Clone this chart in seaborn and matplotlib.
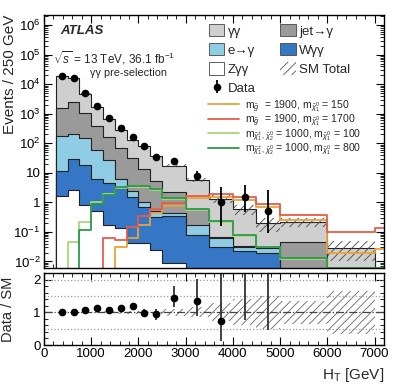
import numpy as np
import matplotlib
matplotlib.use("Agg")
import matplotlib.pyplot as plt
import seaborn as sns
from matplotlib.patches import Patch
from matplotlib.lines import Line2D
from matplotlib.ticker import MultipleLocator, LogLocator, FuncFormatter, NullFormatter

# bin edges in GeV
edges = [250, 500, 750, 1000, 1250, 1500, 1750, 2000, 2250, 2500,
         3000, 3500, 4000, 4500, 5000, 6000, 7000]
sig_edges = edges + [8000]

# backgrounds, events / 250 GeV (stack order bottom -> top)
z_gg = [1.65, 2.7, 0.83, 0.52, 0.17, 0.14, 0.043, 0.043, 0.025, 0.009,
        0.003, 0.002, 0.001, 0.001, 0.0005, 0.0003]
w_gg = [10.3, 26.3, 18.2, 5.5, 4.4, 2.9, 1.46, 0.66, 0.3, 0.33,
        0.077, 0.03, 0.021, 0.019, 0.0035, 0.0017]
e_gam = [168, 181, 131, 54, 23.4, 3.0, 1.0, 0.3, 0.17, 0.11,
         0.09, 0.031, 0.01, 0.008, 0.001, 0.001]
jet_gam = [1400, 2290, 920, 330, 138, 64, 29.5, 12, 4.6, 1.85,
           0.43, 0.003, 0.002, 0.002, 0.042, 0.0005]
gam_gam = [17520, 14100, 3730, 1260, 494, 220, 102, 66, 30.9, 15.3,
           5.3, 1.28, 0.57, 0.17, 0.17, 0.026]
sm_rel_unc = [0.02, 0.02, 0.02, 0.03, 0.03, 0.04, 0.04, 0.05, 0.06, 0.1,
              0.15, 0.27, 0.4, 0.5, 0.35, 0.65]

# data, events / 250 GeV
data = [19000, 16600, 5150, 1870, 705, 325, 161, 78, 34, 25.5,
        7.9, 1.0, 1.5, 0.5, np.nan, np.nan]
data_lo = [140, 130, 75, 45, 27, 19, 12, 8.5, 6, 4.9,
           2.7, 0.84, 1.04, 0.41, np.nan, np.nan]
data_hi = [140, 130, 75, 45, 27, 19, 12, 8.5, 6, 6.3,
           4.0, 2.4, 2.4, 2.15, np.nan, np.nan]

# signals
z0 = 1e-5
sig_gl_150 = [z0, z0, z0, z0, z0, 0.03, 0.06, 0.17, 0.45, 0.75,
              1.4, 1.5, 1.2, 0.7, 0.25, 0.019, 0.027]
sig_gl_1700 = [z0, z0, z0, z0, 0.06, 0.055, 0.15, 0.35, 0.6, 0.95,
               1.6, 1.9, 1.5, 0.9, 0.37, 0.1, 0.14]
sig_ew_100 = [z0, 0.045, 0.21, 1.0, 1.9, 3.0, 3.2, 3.2, 2.6, 1.3,
              0.55, 0.22, 0.075, 0.03, 0.012, 0.005, 0.005]
sig_ew_800 = [z0, z0, 0.12, 0.85, 1.8, 3.3, 3.5, 3.5, 2.8, 1.4,
              0.58, 0.24, 0.08, 0.032, 0.013, 0.006, 0.006]

sns.set_style("ticks")
plt.rcParams["font.family"] = ["Liberation Sans", "DejaVu Sans"]
plt.rcParams["mathtext.fontset"] = "custom"
plt.rcParams["mathtext.rm"] = "Liberation Sans"
plt.rcParams["mathtext.it"] = "Liberation Sans:italic"
plt.rcParams["mathtext.bf"] = "Liberation Sans:bold"
plt.rcParams["hatch.color"] = "#444444"
plt.rcParams["hatch.linewidth"] = 0.6
for a in ("xtick", "ytick"):
    plt.rcParams[a + ".direction"] = "in"
    plt.rcParams[a + ".labelsize"] = 9.5
    plt.rcParams[a + ".color"] = "black"
    plt.rcParams[a + ".major.pad"] = 2.5
plt.rcParams["xtick.top"] = True
plt.rcParams["ytick.right"] = True

edges_a = np.array(edges, dtype=float)
centers = 0.5 * (edges_a[:-1] + edges_a[1:])
sig_edges_a = np.array(sig_edges, dtype=float)
sig_centers = 0.5 * (sig_edges_a[:-1] + sig_edges_a[1:])

fig = plt.figure(figsize=(3.99, 3.87), dpi=100)
ax = fig.add_axes([0.1103, 0.3075, 0.852, 0.6537])
rax = fig.add_axes([0.1103, 0.1085, 0.852, 0.186])

comps = [z_gg, w_gg, e_gam, jet_gam, gam_gam]
colors = ["white", "#3577c4", "#8fcde4", "#9a9a9a", "#cfcfcf"]
cum = np.cumsum(np.array(comps, dtype=float), axis=0)
total = cum[-1]

# draw stack from top layer down
for i in range(len(comps) - 1, -1, -1):
    sns.histplot(x=centers, weights=cum[i], bins=edges, element="step",
                 fill=True, color=colors[i], alpha=1, edgecolor="#222222",
                 linewidth=0.8, ax=ax)

unc = np.array(sm_rel_unc)
lo = np.r_[total * (1 - unc), total[-1] * (1 - unc[-1])]
hi = np.r_[total * (1 + unc), total[-1] * (1 + unc[-1])]
ax.fill_between(edges_a, lo, hi, step="post", facecolor="none",
                edgecolor="#444444", hatch="////", linewidth=0)

sig_list = [sig_gl_150, sig_gl_1700, sig_ew_100, sig_ew_800]
sig_colors = ["#e8a33a", "#e85a4a", "#a8d878", "#2e9a4a"]
for vals, c in zip(sig_list, sig_colors):
    sns.histplot(x=sig_centers, weights=vals, bins=sig_edges, element="step",
                 fill=False, color=c, linewidth=1.3, ax=ax)

eb = ax.errorbar(centers, data, yerr=[data_lo, data_hi], fmt="o", color="black",
                 ms=4.5, elinewidth=1.3, capsize=0)

ax.set_yscale("log")
ax.set_ylim(6e-3, 2.2e6)
ax.set_xlim(0, 7200)
ax.set_xlabel("")
ax.set_ylabel("Events / 250 GeV", fontsize=11, loc="top")
ax.yaxis.set_label_coords(-0.08, 1.0)
ax.tick_params(labelbottom=False)
ax.xaxis.set_major_locator(MultipleLocator(1000))
ax.xaxis.set_minor_locator(MultipleLocator(200))
ax.yaxis.set_major_locator(LogLocator(base=10, numticks=20))
ax.yaxis.set_minor_locator(LogLocator(base=10, subs=np.arange(2, 10), numticks=20))
ax.yaxis.set_minor_formatter(NullFormatter())


def logfmt(v, pos):
    e = int(round(np.log10(v)))
    if e == 0:
        return "1"
    if e == 1:
        return "10"
    return r"$10^{%d}$" % e


ax.yaxis.set_major_formatter(FuncFormatter(logfmt))
ax.tick_params(which="major", length=6)
ax.tick_params(which="minor", length=3)

ax.text(0.047, 0.937, "ATLAS", transform=ax.transAxes, fontsize=9.5,
        fontweight="bold", fontstyle="italic", va="center")
ax.text(0.027, 0.83, r"$\sqrt{s}$ = 13 TeV, 36.1 fb$^{-1}$",
        transform=ax.transAxes, fontsize=8.5, va="center")
ax.text(0.135, 0.772, "γγ pre-selection", transform=ax.transAxes,
        fontsize=7.8, va="center")

ec = "#444444"
h1 = [Patch(facecolor=colors[4], edgecolor=ec, lw=0.6),
      Patch(facecolor=colors[2], edgecolor=ec, lw=0.6),
      Patch(facecolor=colors[0], edgecolor=ec, lw=0.6),
      eb,
      Patch(facecolor=colors[3], edgecolor=ec, lw=0.6),
      Patch(facecolor=colors[1], edgecolor=ec, lw=0.6),
      Patch(facecolor="none", edgecolor="#555555", hatch="////", lw=0)]
l1 = ["γγ", "e→γ", "Zγγ", "Data", "jet→γ", "Wγγ", "SM Total"]
leg1 = ax.legend(h1, l1, ncol=2, loc="upper left", bbox_to_anchor=(0.47, 0.985),
                 frameon=False, fontsize=9.5, handlelength=1.15, handleheight=1.05,
                 handletextpad=0.25, labelspacing=0.42, columnspacing=1.9,
                 borderaxespad=0)
ax.add_artist(leg1)

h2 = [Line2D([], [], color=c, lw=1.3) for c in sig_colors]
l2 = [r"$\mathrm{m}_{\tilde{g}}$  = 1900, $\mathrm{m}_{\tilde{\chi}^0_1}$ = 150",
      r"$\mathrm{m}_{\tilde{g}}$  = 1900, $\mathrm{m}_{\tilde{\chi}^0_1}$ = 1700",
      r"$\mathrm{m}_{\tilde{\chi}^{\pm}_1,\,\tilde{\chi}^0_2}$ = 1000, $\mathrm{m}_{\tilde{\chi}^0_1}$ = 100",
      r"$\mathrm{m}_{\tilde{\chi}^{\pm}_1,\,\tilde{\chi}^0_2}$ = 1000, $\mathrm{m}_{\tilde{\chi}^0_1}$ = 800"]
ax.legend(h2, l2, loc="upper left", bbox_to_anchor=(0.47, 0.69), frameon=False,
          fontsize=7.6, handlelength=2.9, handletextpad=0.6, labelspacing=-0.12,
          borderaxespad=0)

# ratio panel
rl = np.r_[1 - unc, 1 - unc[-1]]
rh = np.r_[1 + unc, 1 + unc[-1]]
rax.fill_between(edges_a, rl, rh, step="post", facecolor="none",
                 edgecolor="#666666", hatch="////", linewidth=0)
for yv in (0.5, 1.5, 2.0):
    rax.axhline(yv, color="#999999", ls=":", lw=0.9)
rax.axhline(1.0, color="#444444", ls="-.", lw=0.9)
d = np.array(data)
ratio = d / total
rax.errorbar(centers, ratio, yerr=[np.array(data_lo) / total, np.array(data_hi) / total],
             fmt="o", color="black", ms=4.5, elinewidth=1.3, capsize=0,
             ecolor="#333333")
rax.set_xlim(0, 7200)
rax.set_ylim(0, 2.2)
rax.xaxis.set_major_locator(MultipleLocator(1000))
rax.xaxis.set_minor_locator(MultipleLocator(200))
rax.yaxis.set_major_locator(MultipleLocator(1))
rax.yaxis.set_minor_locator(MultipleLocator(0.2))
rax.tick_params(which="major", length=6)
rax.tick_params(which="minor", length=3)
rax.set_ylabel("Data / SM", fontsize=10.5)
rax.yaxis.set_label_coords(-0.085, 0.5)
rax.set_xlabel(r"H$_\mathrm{T}$ [GeV]", fontsize=11, loc="right")
for a in (ax, rax):
    for s in a.spines.values():
        s.set_linewidth(1.0)
        s.set_color("black")

fig.savefig("out.png", dpi=100)
